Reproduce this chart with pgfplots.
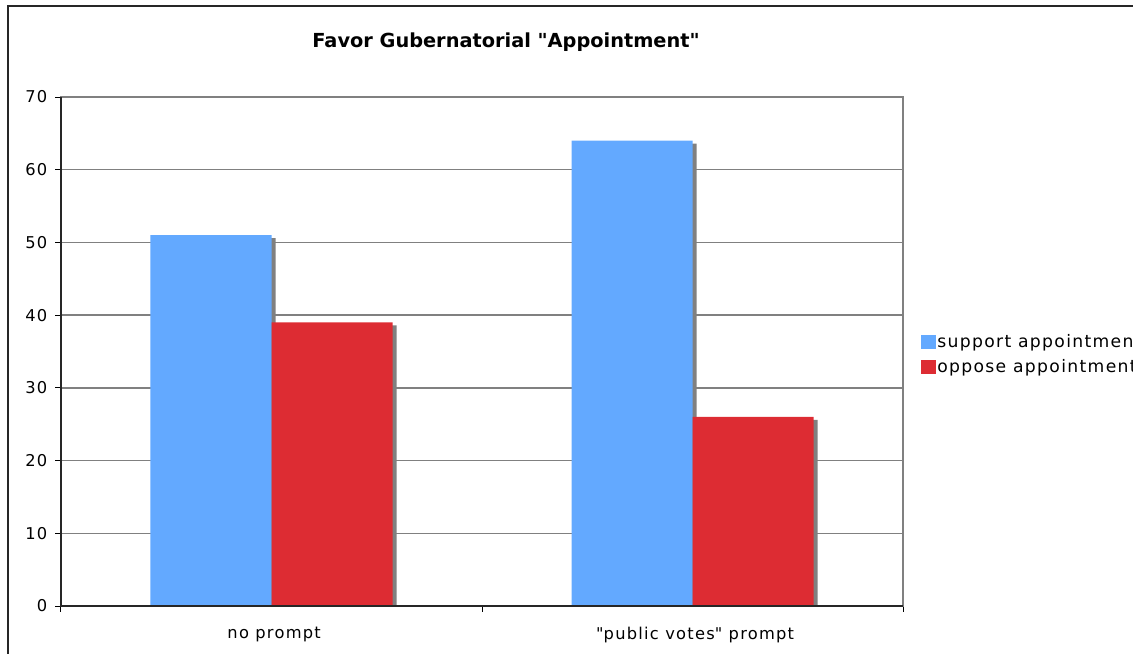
\documentclass[border=0pt]{standalone}
\usepackage{pgfplots}
\pgfplotsset{compat=1.18}
\usepackage{fontspec}
\setmainfont{DejaVu Sans}
\newfontfamily\tickfont{DejaVu Sans}[LetterSpace=7.7]
\definecolor{sup}{HTML}{63A9FF}
\definecolor{opp}{HTML}{DD2C33}
\definecolor{grd}{HTML}{808080}
\begin{document}
\begin{tikzpicture}
\draw[black!85, line width=1.2pt] (6.2pt,-600pt) -- (6.2pt,-4.6pt) -- (900pt,-4.6pt);
\node[font=\bfseries\fontsize{14.5}{16}\selectfont] at (379.5pt,-31.8pt) {Favor Gubernatorial \textquotedbl Appointment\textquotedbl};
\begin{axis}[
  at={(45.75pt,-454.5pt)}, anchor=south west,
  scale only axis, width=631.5pt, height=381.75pt,
  xmin=-0.5, xmax=1.5, ymin=0, ymax=70,
  ytick={0,10,...,70},
  xtick={-0.5,0.5,1.5}, xticklabels={},
  extra x ticks={0,1},
  extra x tick labels={no prompt,{\textquotedbl public votes\textquotedbl\ prompt}},
  extra x tick style={major tick length=0pt, grid=none, tick label style={yshift=-12.5pt, xshift=2pt}},
  ymajorgrids, grid style={grd, line width=1.1pt},
  tick align=outside, tick pos=left, major tick length=4.25pt,
  tick style={black, line width=0.75pt},
  axis line style={grd, line width=1.1pt},
  ticklabel style={font=\tickfont\fontsize{12.2}{14}\selectfont},
  yticklabel style={xshift=-2.5pt},
  /pgf/number format/assume math mode=true,
  after end axis/.code={\draw[black!85, line width=0.9pt] (rel axis cs:0,1) -- (rel axis cs:0,0) -- (rel axis cs:1,0);},
  legend style={at={(1,0.492)}, anchor=west, xshift=10.5pt, draw=none, fill=none,
    font=\tickfont\fontsize{12.9}{14}\selectfont, row sep=5.5pt,
    nodes={inner xsep=1.2pt, inner ysep=0pt, text height=9.8pt, text depth=3pt}},
  legend cell align=left,
]
% shadows
\addplot[ybar, bar width=90.75pt, bar shift=-42.375pt, fill=grd, draw=none, yshift=-2.25pt, forget plot]
  coordinates {(0,51) (1,64)};
\addplot[ybar, bar width=90.75pt, bar shift=48.375pt, fill=grd, draw=none, yshift=-2.25pt, forget plot]
  coordinates {(0,39) (1,26)};
% bars
\addplot[ybar, bar width=90.75pt, bar shift=-45.375pt, fill=sup, draw=none,
  legend image code/.code={\fill[sup] (0pt,-4.5pt) rectangle (10.8pt,6pt);}]
  coordinates {(0,51) (1,64)};
\addlegendentry{support appointment}
\addplot[ybar, bar width=90.75pt, bar shift=45.375pt, fill=opp, draw=none,
  legend image code/.code={\fill[opp] (0pt,-4.5pt) rectangle (10.8pt,6pt);}]
  coordinates {(0,39) (1,26)};
\addlegendentry{oppose appointment}
\end{axis}
\pgfresetboundingbox
\path[use as bounding box] (0pt,0pt) rectangle (849.75pt,-490.5pt);
\end{tikzpicture}
\end{document}
